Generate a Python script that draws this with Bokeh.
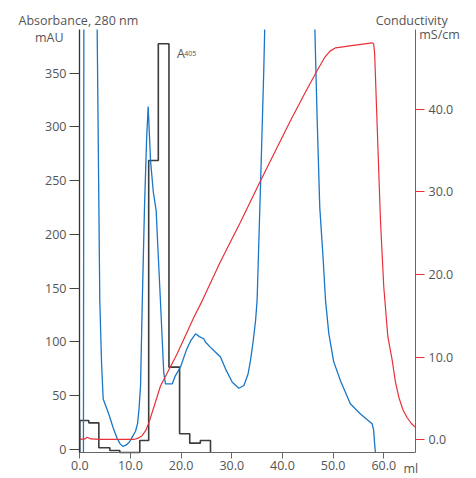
import numpy as np
from bokeh.plotting import figure
from bokeh.models import Range1d, LinearAxis, FixedTicker, NumeralTickFormatter, Label
from bokeh.embed import file_html
from bokeh.resources import INLINE

NaN = np.nan

# ---------------- data ----------------
# Absorbance 280 nm (mAU); NaN marks where the trace runs off the top of the scale
uv_ml = [0.72, 0.8, NaN, 3.43, 3.95, 4.3, 4.62, 5.72, 6.6, 7.4, 8.0, 8.5, 9.1, 9.8,
         10.4, 11.0, 11.4, 11.7, 12.0, 12.3, 12.77, 13.2, 13.5, 13.96, 14.5, 15.08,
         15.28, 15.9, 16.58, 16.92, 18.24, 18.8, 19.9, 21.0, 21.87, 22.85, 23.6,
         24.47, 24.8, 25.8, 26.8, 27.77, 28.76, 30.1, 31.4, 32.4, 33.2, 33.7, 34.2,
         34.7, 35.0, 35.7, 36.3, 36.5, NaN, 46.4, 46.86, 47.37, 48.0, 48.5,
         49.15, 50.1, 51.45, 53.4, 55.4, 57.7, 58.0, 58.2, 58.35]
uv_mau = [-2.8, 390.7, NaN, 390.7, 138, 80, 47, 33, 20, 10, 5, 3, 4, 7,
          12, 17, 24, 38, 60, 130, 225, 290, 319, 269, 240, 222,
          201, 140, 71, 61, 61, 68, 77, 92, 101, 107.6, 105,
          103, 100, 95, 90.5, 86, 75, 62.6, 57, 59.5, 70, 83, 100,
          120, 139, 250, 350, 390.7, NaN, 390.7, 306, 225, 180, 139,
          108, 82, 64, 42.5, 33, 24, 18, 5, -2.8]

# Conductivity (mS/cm)
cond_ml = [0, 1.0, 1.46, 2.2, 4.0, 10.66, 11.5, 12.3, 13.0, 13.6, 14.8, 15.93, 19.22,
           22.5, 24.16, 27.8, 31.7, 35.7, 41.6, 44.5, 46.86, 48.3, 49.4, 50.5, 54.0,
           57.7, 58.0, 58.2, 59.35, 60.0, 60.8, 61.67, 62.3, 62.97, 63.8, 64.6, 65.4, 66.25]
cond_ms = [0.04, 0.1, 0.3, 0.1, 0.05, 0.04, 0.2, 0.5, 1.1, 2.0, 4.3, 6.5, 10.4,
           14.8, 16.8, 21.6, 26.3, 31.35, 38.6, 42.0, 44.65, 46.2, 47.0, 47.4, 47.7,
           48.0, 47.9, 46.7, 26.5, 18.5, 12.5, 9.6, 7.0, 5.15, 3.6, 2.7, 2.0, 1.5]

# A405 of collected fractions (fraction edges in ml, value per fraction)
frac_edges = [0, 1.78, 3.76, 5.93, 7.9, 9.9, 11.84, 13.6, 15.5, 17.6, 19.7, 21.7, 23.8, 25.8]
a405 = [27, 24.8, 1.6, -0.9, -2.8, -2.8, 8.4, 268.8, 377.4, 76.6, 14.6, 5.9, 8.4]

x_ticks = [0, 10, 20, 30, 40, 50, 60]
left_ticks = [0, 50, 100, 150, 200, 250, 300, 350]
right_ticks = [0, 10, 20, 30, 40]

# scale limits of the drawn axes
X_LO, X_HI = -0.06, 66.27
Y_LO, Y_HI = -2.79, 390.7
C_LO, C_HI = -1.536, 49.61

# ---------------- figure ----------------
FONT = "Open Sans"
TXT = "#555555"
BLUE = "#1976c8"
RED = "#e8303a"
STEP = "#3c3c3c"

p = figure(width=470, height=476, output_backend="svg", toolbar_location=None,
           x_range=Range1d(-15.65, 77.12), y_range=Range1d(-25.12, 417.67),
           min_border=0)
p.title.visible = False
p.outline_line_color = None
p.grid.visible = False
p.background_fill_color = "white"
p.extra_y_ranges = {"cond": Range1d(-4.438, 53.12)}

# fraction steps (A405)
sx = [frac_edges[0]]
sy = [Y_LO]
for i, v in enumerate(a405):
    sx += [frac_edges[i], frac_edges[i + 1]]
    sy += [v, v]
sx.append(frac_edges[-1])
sy.append(Y_LO)
p.line(sx, sy, line_color=STEP, line_width=1.6)

p.line(uv_ml, uv_mau, line_color=BLUE, line_width=1.3)
p.line(cond_ml, cond_ms, line_color=RED, line_width=1.2, y_range_name="cond")

# axes styling
xa = p.xaxis[0]
xa.fixed_location = Y_LO
xa.bounds = (X_LO, X_HI)
xa.ticker = FixedTicker(ticks=x_ticks)
xa.formatter = NumeralTickFormatter(format="0.0")
xa.axis_line_color = "#666666"
xa.major_tick_line_color = "#666666"
xa.major_tick_in = 0
xa.major_tick_out = 6
xa.minor_tick_line_color = None
xa.major_label_standoff = 3
xa.major_label_text_font = FONT
xa.major_label_text_font_size = "12.5px"
xa.major_label_text_color = TXT

ya = p.yaxis[0]
ya.fixed_location = X_LO
ya.bounds = (Y_LO, Y_HI)
ya.ticker = FixedTicker(ticks=left_ticks)
ya.axis_line_color = "#333333"
ya.axis_line_width = 1.3
ya.major_tick_line_color = "#444444"
ya.major_tick_in = 0
ya.major_tick_out = 10
ya.minor_tick_line_color = None
ya.major_label_standoff = 3
ya.major_label_text_font = FONT
ya.major_label_text_font_size = "12.5px"
ya.major_label_text_color = TXT

ra = LinearAxis(y_range_name="cond", ticker=FixedTicker(ticks=right_ticks),
                formatter=NumeralTickFormatter(format="0.0"))
ra.fixed_location = X_HI
ra.bounds = (C_LO, C_HI)
ra.axis_line_color = RED
ra.major_tick_line_color = RED
ra.major_tick_in = 0
ra.major_tick_out = 9
ra.minor_tick_line_color = None
ra.major_label_standoff = 4
ra.major_label_text_font = FONT
ra.major_label_text_font_size = "12.5px"
ra.major_label_text_color = TXT
p.add_layout(ra, "right")

def lab(x, y, t, align="left", size="12.5px"):
    p.add_layout(Label(x=x, y=y, text=t, text_align=align, text_baseline="alphabetic",
                       text_font=FONT, text_font_size=size, text_color=TXT))

lab(-12.1, 399.5, "Absorbance, 280 nm")
lab(-3.2, 383.3, "mAU", align="right")
lab(58.4, 399.1, "Conductivity")
lab(67.0, 386.0, "mS/cm")
lab(63.9, -17.4, "ml")
lab(19.2, 368.0, "A")
lab(20.6, 368.2, "405", size="7px")

open("out.html", "w").write(file_html(p, INLINE))
